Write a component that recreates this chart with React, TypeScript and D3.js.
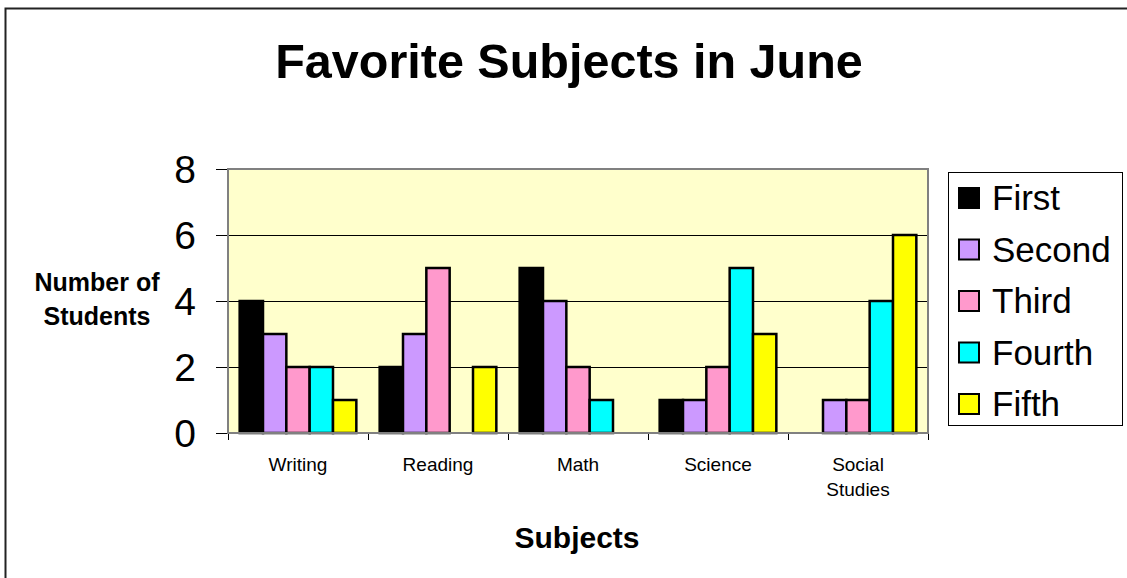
import { useEffect, useRef } from "react";
import * as d3 from "d3";

const subjects = ["Writing", "Reading", "Math", "Science", "Social Studies"];
const grades = ["First", "Second", "Third", "Fourth", "Fifth"];
const colors = ["#000000", "#CC99FF", "#FF99CC", "#00FFFF", "#FFFF00"];

const first = [4, 2, 5, 1, 0];
const second = [3, 3, 4, 1, 1];
const third = [2, 5, 2, 2, 1];
const fourth = [2, 0, 1, 5, 4];
const fifth = [1, 2, 0, 3, 6];
const yTicks = [0, 2, 4, 6, 8];

const series = [first, second, third, fourth, fifth];

function App() {
  const ref = useRef<SVGSVGElement>(null);

  useEffect(() => {
    const svg = d3.select(ref.current);
    svg.selectAll("*").remove();
    const width = 1127;
    const height = 578;
    const plot = { left: 228, right: 928, top: 169, bottom: 433 };
    const font = "Arial, 'Liberation Sans', sans-serif";

    // outer chart border
    svg
      .append("rect")
      .attr("x", 5.5)
      .attr("y", 8.5)
      .attr("width", width)
      .attr("height", height)
      .attr("fill", "#fff")
      .attr("stroke", "#222")
      .attr("stroke-width", 2);

    svg
      .append("text")
      .attr("x", 569)
      .attr("y", 78)
      .attr("text-anchor", "middle")
      .attr("font-family", font)
      .attr("font-weight", "bold")
      .attr("font-size", 48.5)
      .text("Favorite Subjects in June");

    const x0 = d3.scaleBand().domain(subjects).range([plot.left, plot.right]);
    const x1 = d3
      .scaleBand()
      .domain(grades)
      .range([0, x0.bandwidth()])
      .paddingOuter(0.5);
    const y = d3.scaleLinear().domain([0, 8]).range([plot.bottom, plot.top]);

    svg
      .append("rect")
      .attr("x", plot.left)
      .attr("y", plot.top)
      .attr("width", plot.right - plot.left)
      .attr("height", plot.bottom - plot.top)
      .attr("fill", "#FFFFCC");

    svg
      .append("g")
      .selectAll("line")
      .data(yTicks.filter((d) => d > 0 && d < 8))
      .join("line")
      .attr("x1", plot.left)
      .attr("x2", plot.right)
      .attr("y1", (d) => Math.round(y(d)) + 0.5)
      .attr("y2", (d) => Math.round(y(d)) + 0.5)
      .attr("stroke", "#000")
      .attr("stroke-width", 1);

    // y ticks + labels
    const yAxis = svg.append("g");
    yAxis
      .selectAll("line")
      .data(yTicks)
      .join("line")
      .attr("x1", 216)
      .attr("x2", plot.left)
      .attr("y1", (d) => Math.round(y(d)) + 0.5)
      .attr("y2", (d) => Math.round(y(d)) + 0.5)
      .attr("stroke", "#000");
    yAxis
      .selectAll("text")
      .data(yTicks)
      .join("text")
      .attr("x", 196)
      .attr("y", (d) => y(d) + 14)
      .attr("text-anchor", "end")
      .attr("font-family", font)
      .attr("font-size", 39)
      .text((d) => d);

    // x ticks
    svg
      .append("g")
      .selectAll("line")
      .data(d3.range(subjects.length + 1))
      .join("line")
      .attr("x1", (i) => Math.round(plot.left + i * x0.step()) + 0.5)
      .attr("x2", (i) => Math.round(plot.left + i * x0.step()) + 0.5)
      .attr("y1", plot.bottom)
      .attr("y2", plot.bottom + 7)
      .attr("stroke", "#000");

    // bars
    const groups = svg
      .append("g")
      .selectAll("g")
      .data(subjects)
      .join("g")
      .attr("transform", (d) => `translate(${x0(d)},0)`);
    groups
      .selectAll("rect")
      .data((_, i) =>
        grades.map((g, k) => ({ grade: g, value: series[k][i], color: colors[k] }))
      )
      .join("rect")
      .filter((d) => d.value > 0)
      .attr("x", (d) => x1(d.grade) ?? 0)
      .attr("y", (d) => y(d.value))
      .attr("width", x1.bandwidth())
      .attr("height", (d) => y(0) - y(d.value))
      .attr("fill", (d) => d.color)
      .attr("stroke", "#000")
      .attr("stroke-width", 2.5);

    // plot border
    svg
      .append("rect")
      .attr("x", plot.left)
      .attr("y", plot.top)
      .attr("width", plot.right - plot.left)
      .attr("height", plot.bottom - plot.top)
      .attr("fill", "none")
      .attr("stroke", "#808080")
      .attr("stroke-width", 2);

    // x labels
    const xl = svg
      .append("g")
      .selectAll("text")
      .data(subjects)
      .join("text")
      .attr("text-anchor", "middle")
      .attr("font-family", font)
      .attr("font-size", 19)
      .attr("y", 471);
    xl.each(function (d) {
      const t = d3.select(this);
      const cx = (x0(d) ?? 0) + x0.bandwidth() / 2;
      d.split(" ").forEach((w, i) => {
        t.append("tspan").attr("x", cx).attr("dy", i === 0 ? 0 : 25).text(w);
      });
    });

    svg
      .append("text")
      .attr("x", 577)
      .attr("y", 548)
      .attr("text-anchor", "middle")
      .attr("font-family", font)
      .attr("font-weight", "bold")
      .attr("font-size", 30)
      .text("Subjects");

    const yt = svg
      .append("text")
      .attr("text-anchor", "middle")
      .attr("font-family", font)
      .attr("font-weight", "bold")
      .attr("font-size", 25)
      .attr("y", 291);
    ["Number of", "Students"].forEach((w, i) => {
      yt.append("tspan").attr("x", 97).attr("dy", i === 0 ? 0 : 34).text(w);
    });

    // legend
    const legend = svg.append("g");
    legend
      .append("rect")
      .attr("x", 948.5)
      .attr("y", 172.5)
      .attr("width", 174)
      .attr("height", 253)
      .attr("fill", "#fff")
      .attr("stroke", "#000");
    const item = legend
      .selectAll("g")
      .data(grades)
      .join("g")
      .attr("transform", (_, i) => `translate(959,${188 + i * 51.5})`);
    item
      .append("rect")
      .attr("width", 20)
      .attr("height", 20)
      .attr("fill", (_, i) => colors[i])
      .attr("stroke", "#000")
      .attr("stroke-width", 2);
    item
      .append("text")
      .attr("x", 33)
      .attr("y", 22)
      .attr("font-family", font)
      .attr("font-size", 35)
      .text((d) => d);
  }, []);

  return (
    <svg
      ref={ref}
      width={1127}
      height={578}
      style={{ position: "absolute", left: 0, top: 0 }}
    />
  );
}

export default App;
